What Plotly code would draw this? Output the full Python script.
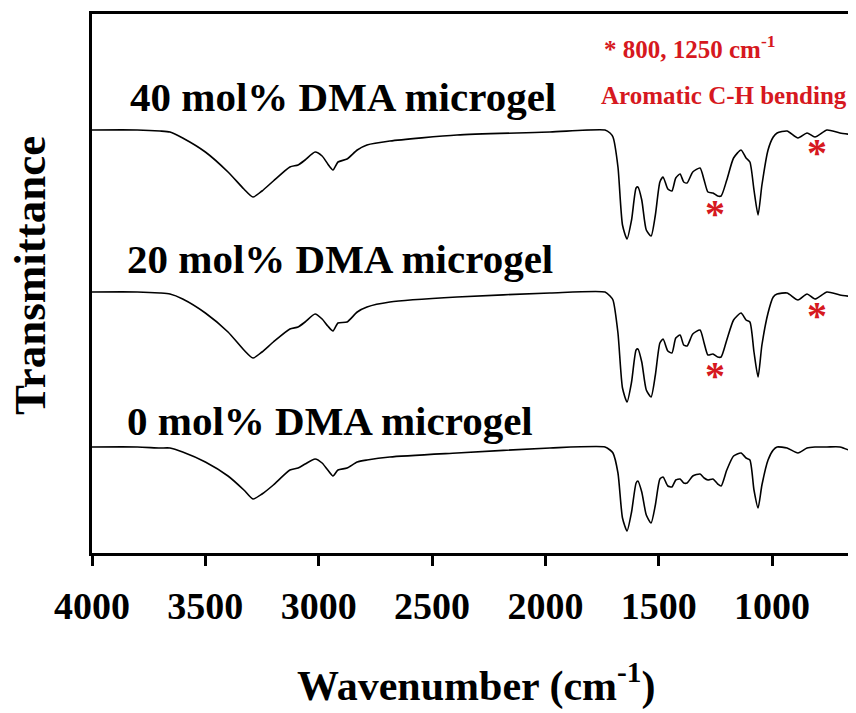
import plotly.graph_objects as go

# Wavenumbers (cm^-1) sampled along the spectra
wavenumber = [4000, 3800, 3700, 3656, 3600, 3500, 3400, 3330, 3290, 3250, 3200, 3127, 3091, 3060,
              3016, 2985, 2960, 2937, 2915, 2875, 2830, 2787, 2686, 2390, 1980, 1737, 1715, 1702,
              1680, 1660, 1640, 1620, 1600, 1592, 1575, 1555, 1534, 1515, 1495, 1481, 1460, 1442,
              1425, 1406, 1390, 1375, 1350, 1318, 1300, 1283, 1261, 1240, 1225, 1200, 1170, 1137,
              1115, 1098, 1080, 1062, 1045, 1018, 995, 978, 934, 886, 846, 811, 758, 701, 630]

# Transmittance (a.u., offset stacked)
t_40 = [423, 423, 422, 421, 415, 401, 381, 364, 356, 362, 372, 386, 388, 393,
        401, 397, 389, 383, 391, 394, 403, 408, 412, 418, 421, 423, 420, 416,
        386, 328, 314, 333, 365, 366, 353, 323, 317, 338, 371, 376, 364, 362,
        375, 379, 371, 370, 381, 385, 373, 361, 360, 357, 357, 373, 395, 403,
        395, 391, 363, 338, 368, 403, 416, 420, 422, 415, 420, 416, 423, 420, 418]

t_20 = [261, 261, 260, 259, 254, 240, 221, 203, 195, 201, 211, 224, 226, 231,
        239, 234, 227, 222, 230, 231, 241, 246, 251, 256, 260, 261, 257, 253,
        220, 165, 151, 171, 203, 204, 191, 163, 156, 178, 210, 214, 202, 200,
        215, 218, 208, 207, 219, 223, 210, 198, 199, 196, 196, 213, 233, 240,
        233, 231, 201, 176, 208, 240, 256, 259, 260, 253, 259, 254, 261, 258, 256]

t_0 = [106, 106, 105, 105, 101, 91, 77, 63, 54, 59, 68, 83, 85, 89,
       94, 90, 83, 77, 83, 85, 91, 93, 96, 100, 105, 106, 103, 100,
       80, 35, 22, 41, 70, 72, 61, 38, 30, 48, 74, 76, 67, 66,
       73, 74, 70, 70, 77, 79, 75, 73, 74, 69, 67, 83, 97, 100,
       95, 93, 63, 45, 68, 93, 103, 106, 105, 100, 105, 106, 106, 106, 100]

series_names = ["40 mol% DMA microgel", "20 mol% DMA microgel", "0 mol% DMA microgel"]
label_x = [3841, 3854, 3854]
label_y = [456, 294, 132]

x_ticks = [4000, 3500, 3000, 2500, 2000, 1500, 1000]

# Aromatic C-H bending markers
star_x = [1250, 800, 1250, 800]
star_y = [343, 404, 181, 241]

RED = "rgb(214,24,32)"
SERIF = "Liberation Serif"

fig = go.Figure()
for name, t in zip(series_names, [t_40, t_20, t_0]):
    fig.add_trace(go.Scatter(x=wavenumber, y=t, mode="lines", name=name,
                             line=dict(color="black", width=1.6, shape="spline", smoothing=0.6),
                             showlegend=False))

annotations = []
for name, lx, ly in zip(series_names, label_x, label_y):
    annotations.append(dict(x=lx, y=ly, xref="x", yref="y", text=name, showarrow=False,
                            xanchor="left", yanchor="middle",
                            font=dict(family=SERIF, size=41, color="black", weight="bold")))
for sx, sy in zip(star_x, star_y):
    annotations.append(dict(x=sx, y=sy, xref="x", yref="y", text="*", showarrow=False,
                            xanchor="center", yanchor="middle", yshift=-3,
                            font=dict(family=SERIF, size=40, color=RED, weight="bold")))
annotations.append(dict(x=1750, y=506, xref="x", yref="y", text="* 800, 1250 cm<sup>-1</sup>",
                        showarrow=False, xanchor="left", yanchor="middle",
                        font=dict(family=SERIF, size=25, color=RED, weight="bold")))
annotations.append(dict(x=1762, y=458, xref="x", yref="y", text="Aromatic C-H bending",
                        showarrow=False, xanchor="left", yanchor="middle",
                        font=dict(family=SERIF, size=25, color=RED, weight="bold")))

# page-pixel placed titles (page has an 8px body offset)
OFF = 8
page_titles = [
    dict(px=476, py=683, text="Wavenumber (cm<sup>-1</sup>)", angle=0, size=42),
    dict(px=30, py=276, text="Transmittance", angle=-90, size=45),
]

W, H = 856 - OFF, 713 - OFF
L, R, T, B = 92 - OFF, 0, 14 - OFF, 160
pw, ph = W - L - R, H - T - B
for pt in page_titles:
    annotations.append(dict(x=(pt["px"] - OFF - L) / pw, y=(H - B - (pt["py"] - OFF)) / ph,
                            xref="paper", yref="paper", text=pt["text"], showarrow=False,
                            xanchor="center", yanchor="middle", textangle=pt["angle"],
                            font=dict(family=SERIF, size=pt["size"], color="black", weight="bold")))

fig.update_layout(
    width=W, height=H,
    margin=dict(l=L, r=R, t=T, b=B),
    plot_bgcolor="white", paper_bgcolor="white",
    annotations=annotations,
    xaxis=dict(range=[4000, 630], tickvals=x_ticks, ticks="outside", ticklen=10, tickwidth=3,
               tickcolor="black", showline=True, linewidth=3, linecolor="black", mirror=True,
               showgrid=False, zeroline=False, ticklabelstandoff=7,
               tickfont=dict(family=SERIF, size=38, color="black", weight="bold")),
    yaxis=dict(range=[0, 539], showticklabels=False, ticks="", showline=True, linewidth=3,
               linecolor="black", showgrid=False, zeroline=False),
)
fig.write_html("out.html")
